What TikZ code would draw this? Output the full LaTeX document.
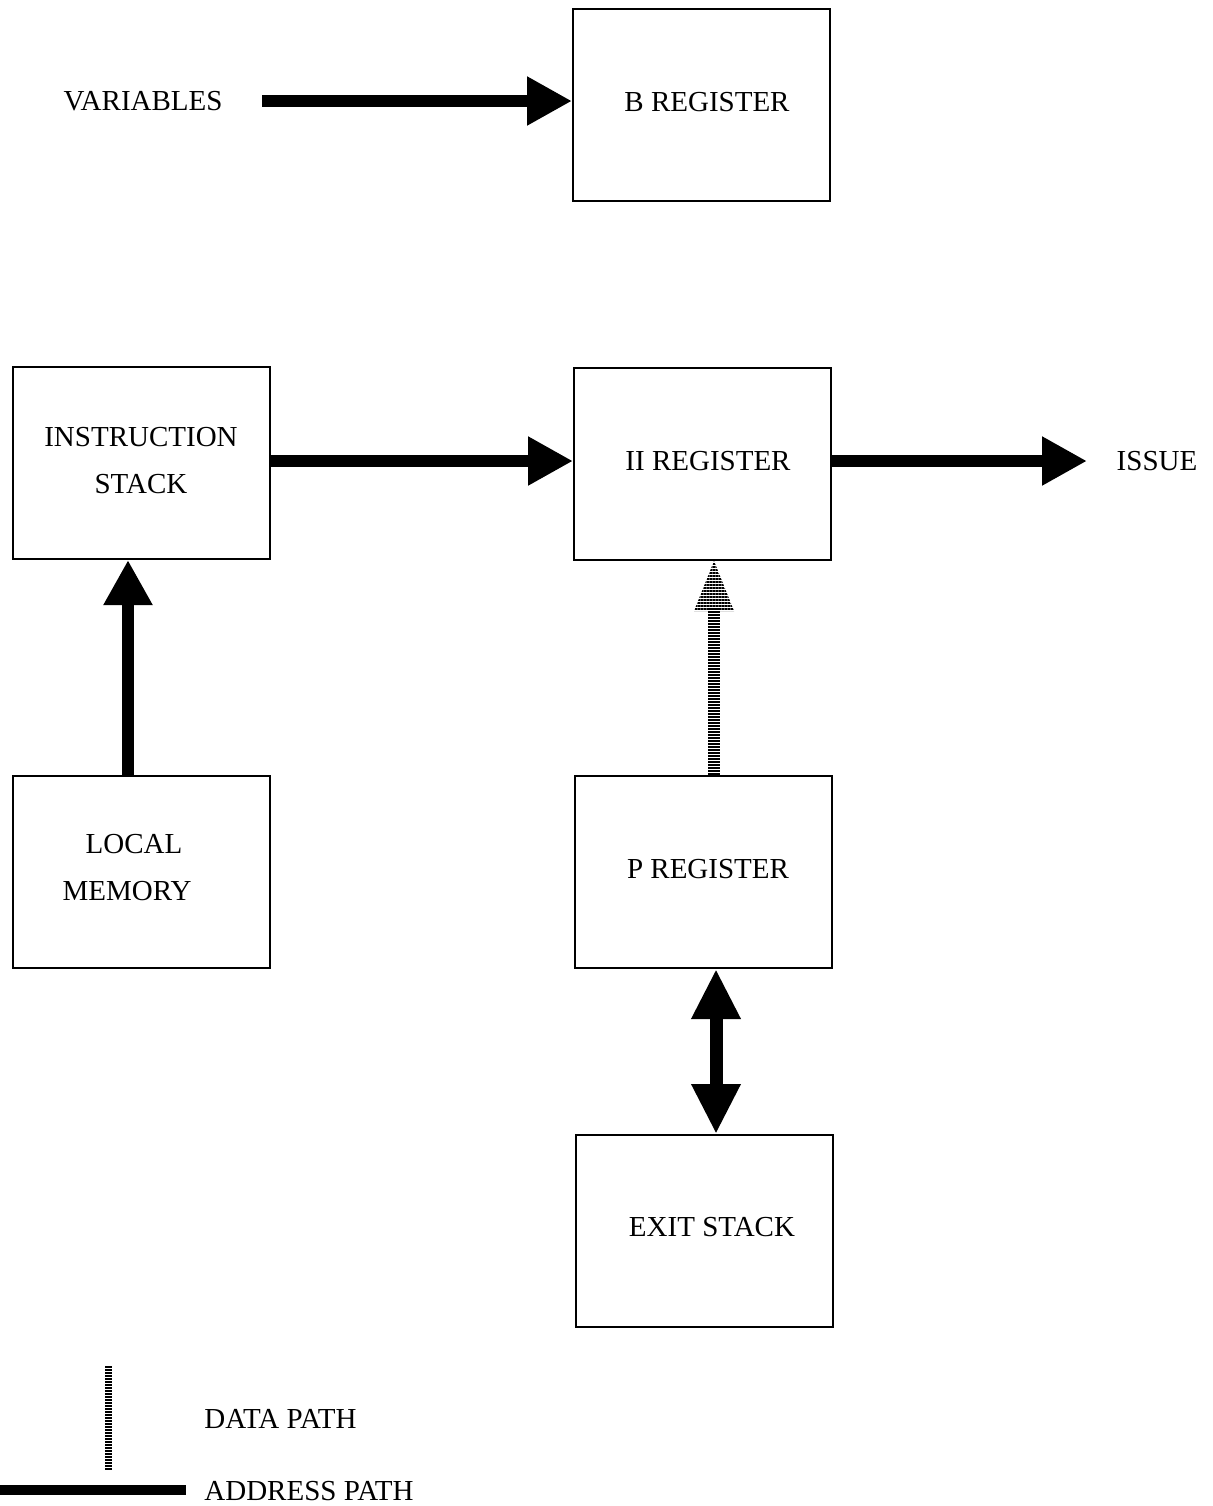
\documentclass[tikz,border=0pt]{standalone}
\usepackage{fontspec}
\setmainfont{Liberation Serif}
\usetikzlibrary{arrows.meta,patterns.meta}
\begin{document}
\begin{tikzpicture}[x=0.5pt,y=-0.5pt,
  reg/.style={draw,line width=1pt,minimum width=128.5pt,minimum height=96pt,
    inner sep=0pt,anchor=north west},
  lbl/.style={inner sep=0pt,align=center,font=\fontsize{14.5}{23.5}\selectfont},
  addr/.style={line width=6pt,-{Triangle[length=22.5pt,width=23pt]}},
  addrboth/.style={line width=6.5pt,{Triangle[length=25pt,width=23pt]}-{Triangle[length=25pt,width=23pt]}},
  datashaft/.style={line width=6pt,dash pattern=on 1pt off 0.5pt},
  datahead/.style={pattern={Lines[angle=0,distance=1.5pt,line width=0.9pt]}}
]
\useasboundingbox (0,0) rectangle (1212,1506);

% register blocks
\node[reg] (breg) at (572,8)   {};
\node[reg] (is)   at (12,366)  {};
\node[reg] (ii)   at (573,367) {};
\node[reg] (lm)   at (12,775)  {};
\node[reg] (preg) at (574,775) {};
\node[reg] (ex)   at (575,1134){};

% block captions
\node[lbl] (tbreg) at (707,102)    {B REGISTER};
\node[lbl] (tis)   at (141,461)    {INSTRUCTION\\STACK};
\node[lbl] (tii)   at (708,461)    {II REGISTER};
\node[lbl] (tlm)   at (134,868)    {LOCAL\\\hspace*{-7pt}MEMORY};
\node[lbl] (tpreg) at (708,869)    {P REGISTER};
\node[lbl] (tex)   at (712,1227)   {EXIT STACK};

% free-standing labels
\node[lbl] (var)   at (143,101)  {VARIABLES};
\node[lbl] (issue) at (1157,461) {ISSUE};

% address paths
\coordinate (varout) at (262,101);
\draw[addr] (varout) -- (breg.west |- varout);
\draw[addr] (is.east |- 0,461) -- (ii.west |- 0,461);
\coordinate (issuein) at (1087,461);
\draw[addr] (ii.east |- issuein) -- (issuein);
\coordinate (lmx) at (128,0);
\draw[addr] (lm.north -| lmx) -- (is.south -| lmx);
\coordinate (pex) at (716,0);
\draw[addrboth] (preg.south -| pex) -- (ex.north -| pex);

% data path from P register to II register
\coordinate (dx) at (714,0);
\coordinate (dhead) at (714,608);
\draw[datashaft] (preg.north -| dx) -- (dhead);
\fill[datahead] (ii.south -| dx) -- ++(20,50) -- ++(-40,0) -- cycle;

% legend
\coordinate (legtop) at (108,1366);
\coordinate (legbot) at (108,1470);
\draw[line width=3.5pt,dash pattern=on 1pt off 0.5pt] (legtop) -- (legbot);
\coordinate (barl) at (0,1490);
\coordinate (barr) at (186,1490);
\draw[line width=5pt] (barl) -- (barr);
\node[lbl,anchor=west] (ldata) at (204,1419) {DATA PATH};
\node[lbl,anchor=west] (laddr) at (204,1491) {ADDRESS PATH};
\end{tikzpicture}
\end{document}
